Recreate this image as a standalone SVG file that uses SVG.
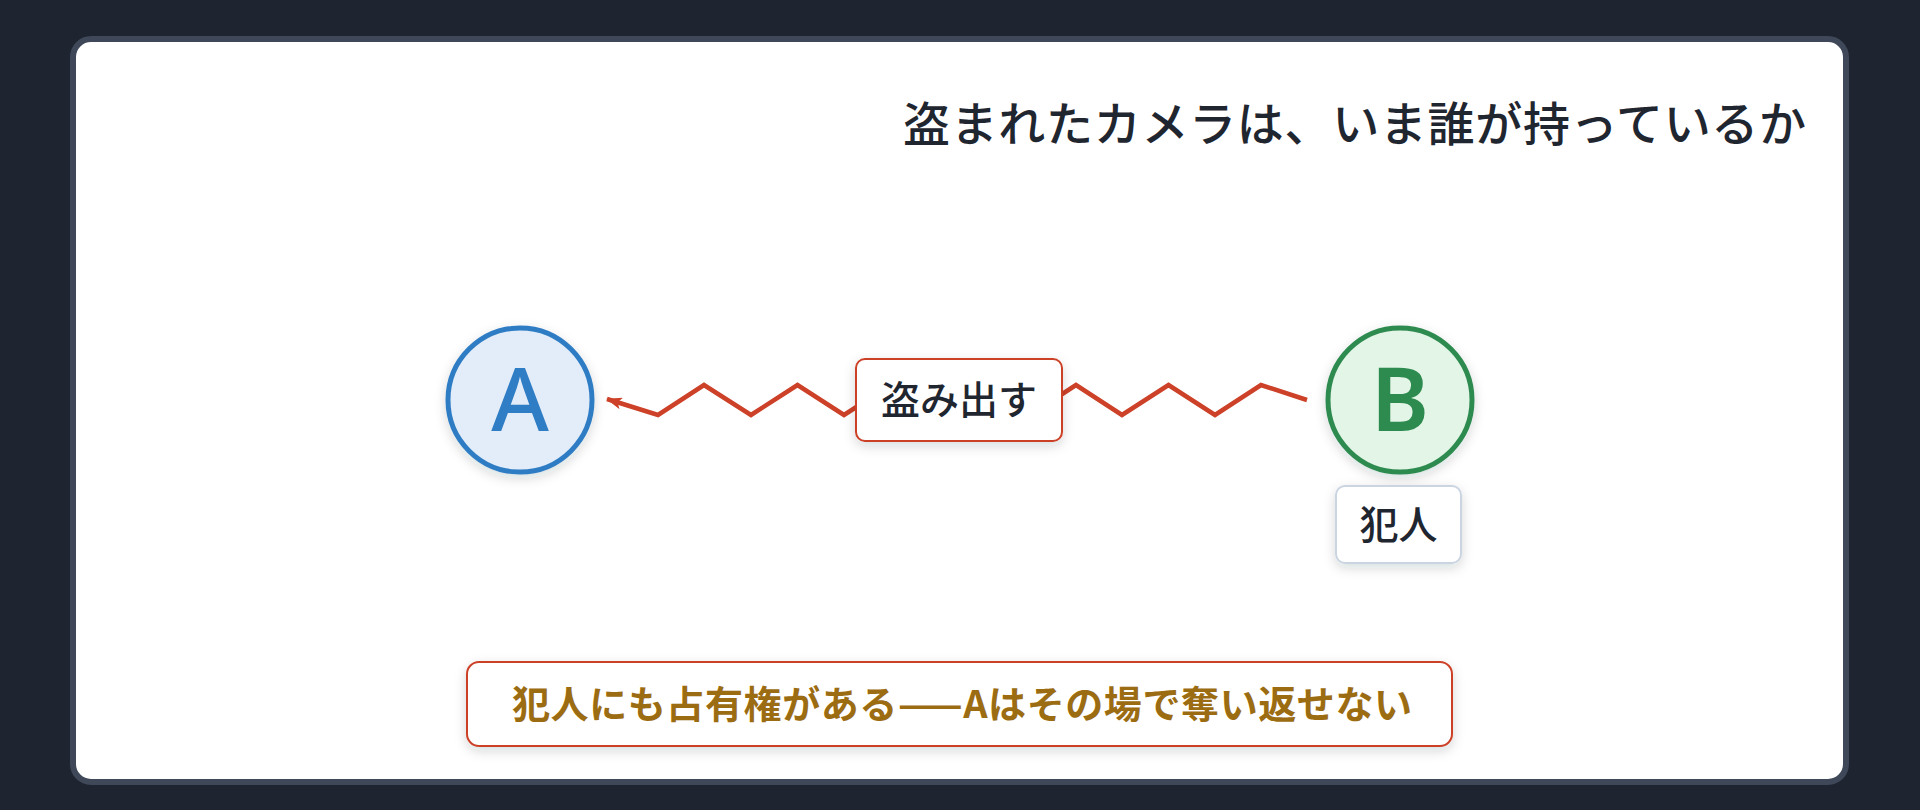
<svg xmlns="http://www.w3.org/2000/svg" width="1920" height="810" viewBox="0 0 1920 810">
  <defs>
    <filter id="shadow" x="-30%" y="-30%" width="160%" height="170%">
      <feDropShadow dx="0" dy="4" stdDeviation="6" flood-color="#1e2530" flood-opacity="0.16"/>
    </filter>
    <marker id="arrow" viewBox="0 0 16 12" refX="15" refY="6" markerWidth="16" markerHeight="12" markerUnits="userSpaceOnUse" orient="auto">
      <path d="M0,0 L16,6 L0,12 L4,6 Z" fill="#cc4128"/>
    </marker>
    <style>
      .jp { font-family: "Noto Sans CJK JP", "Noto Sans", sans-serif; }
      .title { font-size: 47px; font-weight: 500; fill: #1f2630; }
      .label { font-size: 39px; font-weight: 500; fill: #1f2630; }
      .letter { font-family: "Noto Sans", "Open Sans", sans-serif; font-size: 88px; }
      .note { font-size: 38px; font-weight: 600; fill: #9c6c12; }
      .box { fill: #ffffff; stroke-width: 2; }
      .edge { fill: none; stroke: #cc4128; stroke-width: 4.5; stroke-linejoin: miter; }
    </style>
  </defs>

  <rect x="0" y="0" width="1920" height="810" fill="#1e2530"/>
  <rect x="73" y="39" width="1773" height="743" rx="18" ry="18" fill="#ffffff" stroke="#3e4858" stroke-width="6"/>

  <text id="title" class="jp title" x="1806" y="141" text-anchor="end" textLength="903" lengthAdjust="spacing">盗まれたカメラは、いま誰が持っているか</text>

  <g id="connectors">
    <path class="edge" marker-end="url(#arrow)" d="M1307,400 L1261,385 L1215,415 L1168.5,385 L1122,415 L1076,385 L1030,415 L983.5,385 L937,415 L890.5,385 L844,415 L797.5,385 L751,415 L704,385 L658,415 L607,399"/>
    <g id="edge-label">
      <rect class="box" x="856" y="359" width="206" height="82" rx="9" stroke="#cc4128" filter="url(#shadow)"/>
      <text class="jp label" x="959" y="414" text-anchor="middle">盗み出す</text>
    </g>
  </g>

  <g id="node-A">
    <circle cx="520" cy="400" r="72" fill="#e3edf9" stroke="#2f7dc4" stroke-width="5" filter="url(#shadow)"/>
    <text class="letter" x="520" y="431" text-anchor="middle" fill="#2f7dc4" font-weight="500">A</text>
  </g>

  <g id="node-B">
    <circle cx="1400" cy="400" r="72" fill="#e3f5e7" stroke="#2e8b50" stroke-width="5" filter="url(#shadow)"/>
    <text class="letter" x="1400" y="431" text-anchor="middle" fill="#2e8b50" font-weight="600">B</text>
  </g>

  <g id="tag-B">
    <rect class="box" x="1336" y="486" width="125" height="77" rx="9" stroke="#cbd5e1" filter="url(#shadow)"/>
    <text class="jp label" x="1398.5" y="539" text-anchor="middle">犯人</text>
  </g>

  <g id="note">
    <rect class="box" x="467" y="662" width="985" height="84" rx="12" stroke="#cc4128" stroke-width="2.5" filter="url(#shadow)"/>
    <text class="jp note" x="962" y="718" text-anchor="middle" textLength="900" lengthAdjust="spacing">犯人にも占有権がある——Aはその場で奪い返せない</text>
  </g>
</svg>
